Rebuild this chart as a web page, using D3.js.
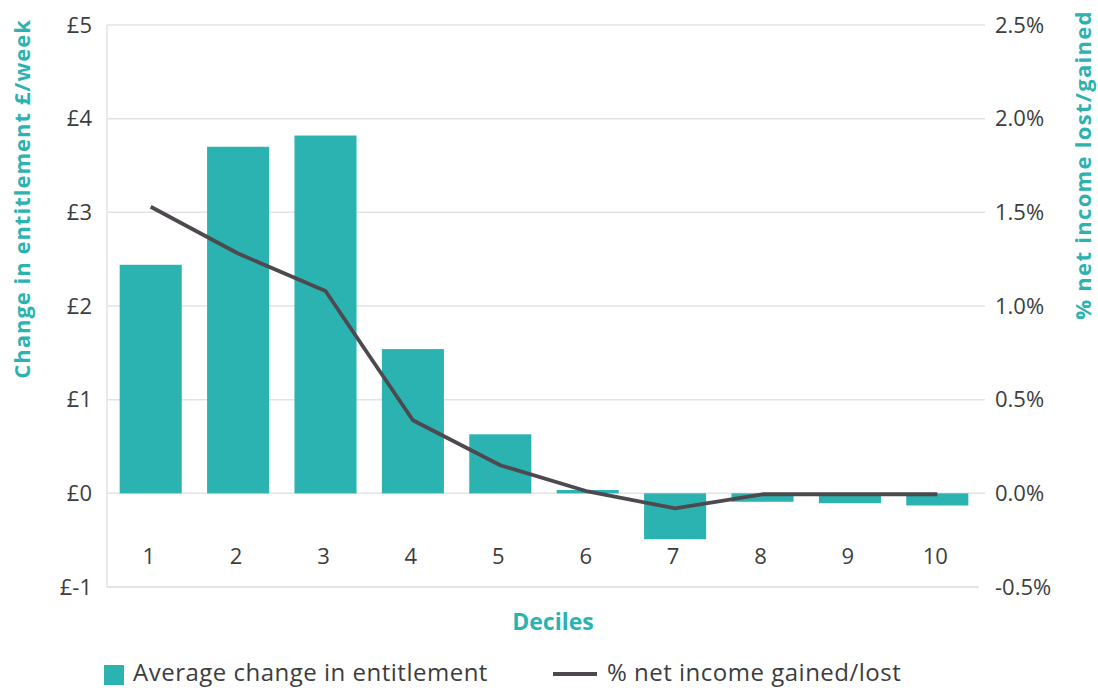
<!DOCTYPE html>
<html><head><meta charset="utf-8">
<script src="https://cdn.jsdelivr.net/npm/d3@7"></script>
<style>
html,body{margin:0;padding:0;background:#fff;}
svg{display:block;font-family:"Open Sans",sans-serif;}
</style></head>
<body><svg id="chart" width="1098" height="690"></svg>
<script>
const deciles = ["1","2","3","4","5","6","7","8","9","10"];
const entitlement = [2.44, 3.70, 3.82, 1.54, 0.63, 0.035, -0.49, -0.09, -0.105, -0.13];
const pctIncome = [1.53, 1.28, 1.08, 0.39, 0.15, 0.01, -0.08, -0.005, -0.005, -0.005];
const leftTicks = [-1, 0, 1, 2, 3, 4, 5];
const rightTicks = [-0.5, 0, 0.5, 1.0, 1.5, 2.0, 2.5];

const TEAL = "#2bb3b1", LINE = "#4e494f", TXT = "#3d3d3d", GRID = "#e3e3e3";
const svg = d3.select("#chart");
const L = 107, R = 981, T = 25, B = 587;

const x = d3.scaleBand().domain(deciles).range([L, R]).paddingInner(0.29).paddingOuter(0.145);
const yL = d3.scaleLinear().domain([-1, 5]).range([B, T]);
const yR = d3.scaleLinear().domain([-0.5, 2.5]).range([B, T]);

// gridlines
svg.append("g").selectAll("line").data(leftTicks.filter(d => d > -1)).join("line")
  .attr("x1", L).attr("x2", 985).attr("y1", d => yL(d)).attr("y2", d => yL(d))
  .attr("stroke", GRID).attr("stroke-width", 1.5);
// frame lines
svg.append("line").attr("x1", L).attr("x2", L).attr("y1", T).attr("y2", B).attr("stroke", GRID).attr("stroke-width", 1.5);
svg.append("line").attr("x1", L).attr("x2", 979).attr("y1", B).attr("y2", B).attr("stroke", GRID).attr("stroke-width", 2);

// bars
svg.append("g").selectAll("rect").data(deciles).join("rect")
  .attr("x", d => x(d)).attr("width", x.bandwidth())
  .attr("y", (d, i) => Math.min(yL(entitlement[i]), yL(0)))
  .attr("height", (d, i) => Math.abs(yL(entitlement[i]) - yL(0)))
  .attr("fill", TEAL);

// line
const line = d3.line().x((d, i) => x(deciles[i]) + x.bandwidth() / 2).y(d => yR(d));
svg.append("path").datum(pctIncome).attr("d", line)
  .attr("fill", "none").attr("stroke", LINE).attr("stroke-width", 3.8).attr("stroke-linejoin", "round");

// left tick labels
svg.append("g").selectAll("text").data(leftTicks).join("text")
  .attr("x", 92).attr("y", d => yL(d)).attr("dy", "0.35em").attr("text-anchor", "end")
  .attr("fill", TXT).attr("font-size", 22).text(d => "£" + d);
// right tick labels
svg.append("g").selectAll("text").data(rightTicks).join("text")
  .attr("x", 995).attr("y", d => yR(d)).attr("dy", "0.35em").attr("text-anchor", "start")
  .attr("fill", TXT).attr("font-size", 22).text(d => d3.format(".1f")(d).replace("−", "-") + "%");
// x tick labels
svg.append("g").selectAll("text").data(deciles).join("text")
  .attr("x", d => x(d) + x.bandwidth() / 2 - 2).attr("y", 556).attr("dy", "0.35em").attr("text-anchor", "middle")
  .attr("fill", TXT).attr("font-size", 22).text(d => d);

// axis titles
svg.append("text").attr("x", 553).attr("y", 622).attr("dy", "0.35em").attr("text-anchor", "middle")
  .attr("fill", TEAL).attr("font-size", 23).attr("font-weight", "bold").text("Deciles");
svg.append("text").attr("transform", "translate(22,199) rotate(-90)").attr("dy", "0.35em").attr("text-anchor", "middle")
  .attr("fill", TEAL).attr("font-size", 22).attr("letter-spacing", 1).attr("font-weight", "bold").text("Change in entitlement £/week");
svg.append("text").attr("transform", "translate(1083,165) rotate(-90)").attr("dy", "0.35em").attr("text-anchor", "middle")
  .attr("fill", TEAL).attr("font-size", 22).attr("letter-spacing", 1.3).attr("font-weight", "bold").text("% net income lost/gained");

// legend
const lg = svg.append("g");
lg.append("rect").attr("x", 104).attr("y", 665).attr("width", 20).attr("height", 20).attr("fill", TEAL);
lg.append("text").attr("x", 133).attr("y", 673).attr("dy", "0.35em").attr("fill", TXT).attr("font-size", 24).attr("letter-spacing", 0.5).text("Average change in entitlement");
lg.append("line").attr("x1", 553).attr("x2", 597).attr("y1", 674).attr("y2", 674).attr("stroke", LINE).attr("stroke-width", 4);
lg.append("text").attr("x", 607).attr("y", 673).attr("dy", "0.35em").attr("fill", TXT).attr("font-size", 24).attr("letter-spacing", 0.5).text("% net income gained/lost");
</script></body></html>
